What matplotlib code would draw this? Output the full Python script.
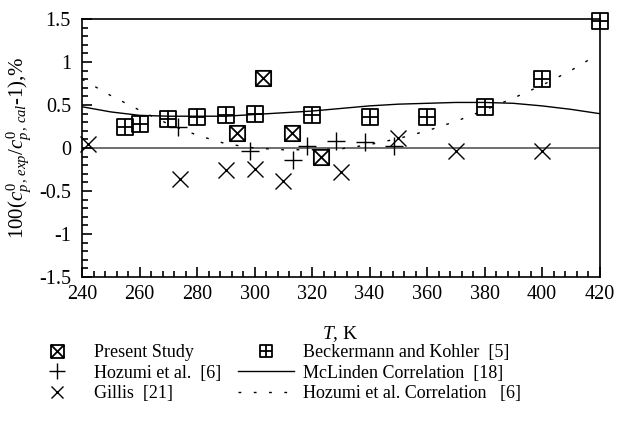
import matplotlib
matplotlib.use("Agg")
import matplotlib.pyplot as plt
import numpy as np
from matplotlib.path import Path
from matplotlib.ticker import MultipleLocator

plt.rcParams["font.family"] = ["Liberation Serif", "DejaVu Serif"]
plt.rcParams["mathtext.fontset"] = "custom"
plt.rcParams["mathtext.rm"] = "Liberation Serif"
plt.rcParams["mathtext.it"] = "Liberation Serif:italic"

# data
present_T = [294, 303, 313, 323]
present_dev = [0.17, 0.81, 0.17, -0.10]

beck_T = [255, 260, 270, 280, 290, 300, 320, 340, 360, 380, 400, 420]
beck_dev = [0.25, 0.28, 0.34, 0.36, 0.38, 0.40, 0.38, 0.36, 0.36, 0.48, 0.80, 1.48]

hozumi_T = [273.5, 298.4, 313.5, 318.3, 328.5, 338.3, 348.4]
hozumi_dev = [0.24, -0.04, -0.14, 0.02, 0.08, 0.07, 0.02]

gillis_T = [242, 274, 290, 300, 310, 330, 350, 370, 400]
gillis_dev = [0.05, -0.36, -0.26, -0.24, -0.38, -0.28, 0.12, -0.03, -0.03]

mclinden_T = [240, 250, 260, 270, 280, 290, 300, 310, 320, 330, 340, 350,
              360, 370, 380, 390, 400, 410, 420]
mclinden_dev = [0.48, 0.42, 0.38, 0.37, 0.37, 0.37, 0.39, 0.41, 0.43, 0.46,
                0.49, 0.51, 0.52, 0.53, 0.53, 0.52, 0.49, 0.45, 0.40]

hozcorr_T = [240, 250, 260, 270, 280, 290, 300, 310, 320, 330, 340, 350,
             360, 370, 380, 390, 400, 410, 416]
hozcorr_dev = [0.80, 0.61, 0.44, 0.28, 0.15, 0.05, 0.0, -0.02, -0.02, -0.01,
               0.04, 0.11, 0.20, 0.31, 0.44, 0.58, 0.73, 0.90, 1.02]

# box markers: square with "+" (grid) and square with "x"
sq = [(-1, -1), (1, -1), (1, 1), (-1, 1), (-1, -1)]
sq_codes = [Path.MOVETO] + [Path.LINETO] * 3 + [Path.CLOSEPOLY]
box_plus = Path(sq + [(0, -1), (0, 1), (-1, 0), (1, 0)],
                sq_codes + [Path.MOVETO, Path.LINETO, Path.MOVETO, Path.LINETO])
box_x = Path(sq + [(-1, -1), (1, 1), (-1, 1), (1, -1)],
             sq_codes + [Path.MOVETO, Path.LINETO, Path.MOVETO, Path.LINETO])

fig = plt.figure(figsize=(6.19, 4.37), dpi=100)
ax = fig.add_axes([0.1325, 0.366, 0.836, 0.5905])

ax.axhline(0, color="#555555", linewidth=1.2, zorder=1)

l_mc, = ax.plot(mclinden_T, mclinden_dev, "-", color="black", linewidth=1.0,
                label="McLinden Correlation  [18]")
l_hc, = ax.plot(hozcorr_T, hozcorr_dev, color="black", linewidth=1.0,
                linestyle=(0, (2, 9)), label="Hozumi et al. Correlation   [6]")

l_ps, = ax.plot(present_T, present_dev, linestyle="none", marker=box_x,
                markersize=11, markerfacecolor="none", markeredgecolor="black",
                markeredgewidth=1.3, label="Present Study", clip_on=False)
l_bk, = ax.plot(beck_T, beck_dev, linestyle="none", marker=box_plus,
                markersize=11, markerfacecolor="none", markeredgecolor="black",
                markeredgewidth=1.3, label="Beckermann and Kohler  [5]",
                clip_on=False)
l_hz, = ax.plot(hozumi_T, hozumi_dev, linestyle="none", marker="+",
                markersize=13, markeredgecolor="black", markeredgewidth=1.0,
                label="Hozumi et al.  [6]")
l_gi, = ax.plot(gillis_T, gillis_dev, linestyle="none", marker="x",
                markersize=11, markeredgecolor="black", markeredgewidth=1.0,
                label="Gillis  [21]", clip_on=False)

ax.set_xlim(240, 420)
ax.set_ylim(-1.5, 1.5)
ax.xaxis.set_major_locator(MultipleLocator(20))
ax.xaxis.set_minor_locator(MultipleLocator(4))
ax.yaxis.set_major_locator(MultipleLocator(0.5))
ax.yaxis.set_minor_locator(MultipleLocator(0.1))
ax.set_yticks([-1.5, -1, -0.5, 0, 0.5, 1, 1.5])
ax.set_yticklabels(["-1.5", "-1", "-0.5", "0", "0.5", "1", "1.5"])
ax.tick_params(which="both", direction="in", top=False, right=False,
               labelsize=14.5, width=1.2, color="black")
ax.tick_params(which="major", length=7)
ax.tick_params(axis="x", which="major", pad=6)
ax.tick_params(axis="y", which="major", pad=8)
ax.tick_params(which="minor", length=4)
for s in ax.spines.values():
    s.set_linewidth(1.2)

ax.set_xlabel(r"$T$, K", fontsize=14, labelpad=14)
ax.set_ylabel(r"100($c_{p}^{0}$$_{,\,exp}$/$c_{p}^{0}$$_{,\,cal}$-1),%",
              fontsize=15, labelpad=4)

handles = [l_ps, l_hz, l_gi, l_bk, l_mc, l_hc]
fig.legend(handles=handles, labels=[h.get_label() for h in handles],
           loc="upper left", bbox_to_anchor=(0.047, 0.213), ncol=2,
           frameon=False, fontsize=13, handlelength=3.1, handletextpad=0.5,
           columnspacing=0.95, labelspacing=0.2, markerscale=0.85,
           borderpad=0, borderaxespad=0)

fig.savefig("out.png", dpi=100)
